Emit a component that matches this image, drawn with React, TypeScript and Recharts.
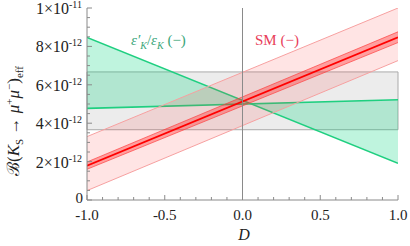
import { ComposedChart, Area, Line, XAxis, YAxis, ReferenceArea, ReferenceLine } from 'recharts';

// D values at the two ends of the plot
const D_VALUES = [-1, 1];

// epsilon'/epsilon band (two edge lines that cross)
const EPS_UPPER = [8.47e-12, 1.91e-12];
const EPS_LOWER = [4.77e-12, 5.22e-12];

// SM prediction: central line, inner and outer bands
const SM_CENTER = [1.79e-12, 8.47e-12];
const SM_INNER_LO = [1.6e-12, 8.2e-12];
const SM_INNER_HI = [1.98e-12, 8.76e-12];
const SM_OUTER_LO = [0.49e-12, 7.26e-12];
const SM_OUTER_HI = [3.3e-12, 10.0e-12];

// horizontal gray band
const BAND = [3.66e-12, 6.67e-12];

const X_TICKS = [-1, -0.9, -0.8, -0.7, -0.6, -0.5, -0.4, -0.3, -0.2, -0.1, 0, 0.1, 0.2, 0.3, 0.4, 0.5, 0.6, 0.7, 0.8, 0.9, 1];
const Y_TICKS = [
  0, 0.5e-12, 1e-12, 1.5e-12, 2e-12, 2.5e-12, 3e-12, 3.5e-12, 4e-12, 4.5e-12, 5e-12,
  5.5e-12, 6e-12, 6.5e-12, 7e-12, 7.5e-12, 8e-12, 8.5e-12, 9e-12, 9.5e-12, 1e-11,
];
const Y_MAJOR = [0, 2e-12, 4e-12, 6e-12, 8e-12, 1e-11];

const data = D_VALUES.map((d, i) => ({
  d,
  eps: [EPS_LOWER[i], EPS_UPPER[i]],
  smOuter: [SM_OUTER_LO[i], SM_OUTER_HI[i]],
  smInner: [SM_INNER_LO[i], SM_INNER_HI[i]],
  sm: SM_CENTER[i],
}));

const FONT = '"Liberation Serif", "Times New Roman", serif';
const AXIS = '#8a8a8a';
const TXT = { fontFamily: FONT };

const isMajorX = (v: number) => Math.abs(v * 2 - Math.round(v * 2)) < 1e-6;
const isMajorY = (v: number) => Y_MAJOR.some((m) => Math.abs(m - v) < 1e-15);

function XTickBottom({ x, y, payload }: any) {
  const major = isMajorX(payload.value);
  return (
    <g>
      <line x1={x} x2={x} y1={y} y2={y - (major ? 5 : 3)} stroke={AXIS} />
      {major && (
        <text x={x} y={y + 20} textAnchor="middle" fontSize={15} style={TXT} fill="#222">
          {payload.value.toFixed(1)}
        </text>
      )}
    </g>
  );
}

function XTickTop({ x, y, payload }: any) {
  const major = isMajorX(payload.value);
  return <line x1={x} x2={x} y1={y} y2={y + (major ? 5 : 3)} stroke={AXIS} />;
}

function YTickLeft({ x, y, payload }: any) {
  const v = payload.value;
  const major = isMajorY(v);
  let label = null;
  if (major) {
    if (v === 0) {
      label = (
        <text x={x - 4} y={y + 3} textAnchor="end" fontSize={15} style={TXT} fill="#222">
          0
        </text>
      );
    } else {
      const exp = Math.floor(Math.log10(v) + 1e-9);
      const mant = Math.round(v / Math.pow(10, exp));
      label = (
        <text x={x - 5} y={y + 6} textAnchor="end" fontSize={16} style={TXT} fill="#222">
          {mant}×10
          <tspan fontSize={10} dy={-6}>
            {exp}
          </tspan>
        </text>
      );
    }
  }
  return (
    <g>
      <line x1={x} x2={x + (major ? 5 : 3)} y1={y} y2={y} stroke={AXIS} />
      {label}
    </g>
  );
}

function YTickRight({ x, y, payload }: any) {
  const major = isMajorY(payload.value);
  return <line x1={x} x2={x - (major ? 5 : 3)} y1={y} y2={y} stroke={AXIS} />;
}

export default function App() {
  return (
    <div style={{ position: 'absolute', left: 0, top: 0, width: 410, height: 246, background: '#fff' }}>
      <ComposedChart width={410} height={246} data={data} margin={{ top: 8, right: 12, bottom: 0, left: 0 }}>
        <XAxis
          dataKey="d"
          type="number"
          domain={[-1, 1]}
          ticks={X_TICKS}
          interval={0}
          tickSize={0}
          tickMargin={0}
          tickLine={false}
          tick={XTickBottom}
          height={46}
          stroke={AXIS}
          allowDataOverflow
        />
        <XAxis
          xAxisId="top"
          orientation="top"
          dataKey="d"
          type="number"
          domain={[-1, 1]}
          ticks={X_TICKS}
          interval={0}
          tickSize={0}
          tickMargin={0}
          tickLine={false}
          tick={XTickTop}
          height={0}
          stroke={AXIS}
          allowDataOverflow
        />
        <YAxis
          type="number"
          domain={[0, 1e-11]}
          ticks={Y_TICKS}
          interval={0}
          tickSize={0}
          tickMargin={0}
          tickLine={false}
          tick={YTickLeft}
          width={87}
          stroke={AXIS}
          allowDataOverflow
        />
        <YAxis
          yAxisId="right"
          orientation="right"
          type="number"
          domain={[0, 1e-11]}
          ticks={Y_TICKS}
          interval={0}
          tickSize={0}
          tickMargin={0}
          tickLine={false}
          tick={YTickRight}
          width={0}
          stroke={AXIS}
          allowDataOverflow
        />
        <ReferenceArea y1={BAND[0]} y2={BAND[1]} fill="#000" fillOpacity={0.075} stroke="#aaa" strokeWidth={1} />
        <Area
          type="linear"
          dataKey="eps"
          fill="#00d27a"
          fillOpacity={0.25}
          stroke="#1fcf80"
          strokeWidth={1.6}
          isAnimationActive={false}
          dot={false}
          activeDot={false}
        />
        <Area
          type="linear"
          dataKey="smOuter"
          fill="#ff3030"
          fillOpacity={0.13}
          stroke="#f7a0a0"
          strokeWidth={1}
          isAnimationActive={false}
          dot={false}
          activeDot={false}
        />
        <Area
          type="linear"
          dataKey="smInner"
          fill="#ff2020"
          fillOpacity={0.35}
          stroke="#ff4040"
          strokeWidth={0.7}
          isAnimationActive={false}
          dot={false}
          activeDot={false}
        />
        <Line
          type="linear"
          dataKey="sm"
          stroke="#ff0000"
          strokeWidth={1.8}
          dot={false}
          activeDot={false}
          isAnimationActive={false}
        />
        <ReferenceLine x={0} stroke="#8a8a8a" strokeWidth={1} />
      </ComposedChart>
      <svg
        width={410}
        height={246}
        style={{ position: 'absolute', left: 0, top: 0, pointerEvents: 'none', fontFamily: FONT }}
      >
        <text x={131} y={45} fontSize={15} fill="#3aa67a">
          <tspan fontStyle="italic">ε′</tspan>
          <tspan fontStyle="italic" fontSize={10} dy={4}>K</tspan>
          <tspan dy={-4}>/</tspan>
          <tspan fontStyle="italic">ε</tspan>
          <tspan fontStyle="italic" fontSize={10} dy={4}>K</tspan>
          <tspan dy={-4}> (−)</tspan>
        </text>
        <text x={255} y={45} fontSize={15} fill="#e8405a">
          SM (−)
        </text>
        <text x={244} y={240} fontSize={16} fontStyle="italic" textAnchor="middle" fill="#222">
          D
        </text>
        <text transform="translate(19,121) rotate(-90)" fontSize={17} textAnchor="middle" fill="#222">
          ℬ(<tspan fontStyle="italic">K</tspan>
          <tspan fontSize={11} dy={4}>S</tspan>
          <tspan dy={-4}> → </tspan>
          <tspan fontStyle="italic">μ</tspan>
          <tspan fontSize={11} dy={-6}>+</tspan>
          <tspan dy={6} fontStyle="italic">μ</tspan>
          <tspan fontSize={11} dy={-6}>−</tspan>
          <tspan dy={6}>)</tspan>
          <tspan fontSize={11} dy={4}>eff</tspan>
        </text>
      </svg>
    </div>
  );
}
